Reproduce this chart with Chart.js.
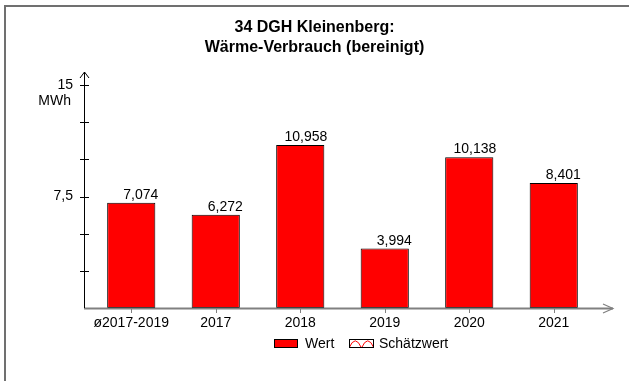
<!DOCTYPE html>
<html>
<head>
<meta charset="utf-8">
<script src="https://cdn.jsdelivr.net/npm/chart.js@4.4.1/dist/chart.umd.min.js"></script>
<style>
  html, body { margin: 0; padding: 0; background: #fff; }
  #wrap { width: 629px; height: 381px; position: relative; }
</style>
</head>
<body>
<div id="wrap"><canvas id="c" width="629" height="381"></canvas></div>
<script>
// Heat consumption per period (MWh)
const categories = ['ø2017-2019', '2017', '2018', '2019', '2020', '2021'];
const values = [7.074, 6.272, 10.958, 3.994, 10.138, 8.401];
const estimates = [null, null, null, null, null, null];
const yTickValues = [0, 2.5, 5, 7.5, 10, 12.5, 15];
const yLabelValues = [7.5, 15];
const titleLines = ['34 DGH Kleinenberg:', 'Wärme-Verbrauch (bereinigt)'];
const unitLabel = 'MWh';
const legendLabels = ['Wert', 'Schätzwert'];

const FONT = '"Liberation Sans", Arial, sans-serif';
const RED = '#ff0000';

function fmt(v, digits) {
  return v.toFixed(digits).replace('.', ',');
}
function fmtTick(v) {
  return Number.isInteger(v) ? String(v) : String(v).replace('.', ',');
}

// Hatched swatch used for the estimate series
function drawEstimateSwatch(ctx, x, y, w, h) {
  ctx.save();
  ctx.fillStyle = '#fff';
  ctx.fillRect(x, y, w, h);
  ctx.beginPath();
  ctx.rect(x, y, w, h);
  ctx.clip();
  ctx.strokeStyle = RED;
  ctx.lineWidth = 1;
  const step = w / 2;
  for (let i = 0; i < 2; i++) {
    const cx = x + step * i + step / 2;
    ctx.beginPath();
    ctx.moveTo(x + step * i, y + h);
    ctx.quadraticCurveTo(cx, y - h * 0.6, x + step * (i + 1), y + h);
    ctx.stroke();
  }
  ctx.restore();
  ctx.strokeStyle = '#000';
  ctx.lineWidth = 1;
  ctx.strokeRect(x + 0.5, y + 0.5, w - 1, h - 1);
}

const decor = {
  id: 'decor',
  beforeDraw(chart) {
    const ctx = chart.ctx;
    ctx.save();
    ctx.fillStyle = '#fff';
    ctx.fillRect(0, 0, chart.width, chart.height);
    // frame
    ctx.strokeStyle = '#707070';
    ctx.lineWidth = 2;
    ctx.beginPath();
    ctx.moveTo(5, chart.height);
    ctx.lineTo(5, 6);
    ctx.lineTo(chart.width, 6);
    ctx.stroke();
    ctx.restore();
  },
  afterDatasetsDraw(chart) {
    const ctx = chart.ctx;
    const xs = chart.scales.x;
    const ys = chart.scales.y;
    const y0 = ys.getPixelForValue(0);
    const yTop = ys.getPixelForValue(15);
    const axisX = 84;
    ctx.save();

    // title
    ctx.fillStyle = '#000';
    ctx.font = 'bold 16px ' + FONT;
    ctx.textAlign = 'center';
    ctx.textBaseline = 'alphabetic';
    ctx.fillText(titleLines[0], chart.width / 2, 32);
    ctx.fillText(titleLines[1], chart.width / 2, 52);

    // x axis (grey, with arrow)
    const xEnd = 613;
    ctx.strokeStyle = '#808080';
    ctx.lineWidth = 2;
    ctx.beginPath();
    ctx.moveTo(axisX, y0 + 0.5);
    ctx.lineTo(xEnd, y0 + 0.5);
    ctx.stroke();
    ctx.lineWidth = 1.2;
    ctx.beginPath();
    ctx.moveTo(xEnd - 10, y0 - 4);
    ctx.lineTo(xEnd, y0 + 0.5);
    ctx.lineTo(xEnd - 10, y0 + 5);
    ctx.stroke();
    ctx.lineWidth = 1;
    categories.forEach((c, i) => {
      const px = Math.round(xs.getPixelForValue(i)) + 0.5;
      ctx.beginPath();
      ctx.moveTo(px, y0 + 1);
      ctx.lineTo(px, y0 + 5);
      ctx.stroke();
    });

    // y axis (black, with arrow)
    ctx.strokeStyle = '#000';
    ctx.lineWidth = 1;
    ctx.beginPath();
    ctx.moveTo(axisX + 0.5, y0);
    ctx.lineTo(axisX + 0.5, yTop - 13);
    ctx.stroke();
    ctx.beginPath();
    ctx.moveTo(axisX - 4, yTop - 7);
    ctx.lineTo(axisX + 0.5, yTop - 13);
    ctx.lineTo(axisX + 5, yTop - 7);
    ctx.stroke();
    yTickValues.forEach(v => {
      if (v === 0) return;
      const py = Math.round(ys.getPixelForValue(v)) + 0.5;
      ctx.beginPath();
      ctx.moveTo(axisX - 4, py);
      ctx.lineTo(axisX + 5, py);
      ctx.stroke();
    });

    // y labels
    ctx.font = '14px ' + FONT;
    ctx.textAlign = 'right';
    ctx.textBaseline = 'middle';
    yLabelValues.forEach(v => {
      ctx.fillText(fmtTick(v), 73, ys.getPixelForValue(v));
    });
    ctx.fillText(unitLabel, 71, ys.getPixelForValue(15) + 16);

    // x labels
    ctx.textAlign = 'center';
    ctx.textBaseline = 'middle';
    categories.forEach((c, i) => {
      ctx.fillText(c, xs.getPixelForValue(i), y0 + 15);
    });

    // value labels, right-aligned to the bar's right edge
    ctx.textAlign = 'right';
    ctx.textBaseline = 'alphabetic';
    const meta = chart.getDatasetMeta(0);
    meta.data.forEach((bar, i) => {
      ctx.fillText(fmt(values[i], 3), bar.x + bar.width / 2 + 3, bar.y - 4);
    });

    // legend
    const ly = 339;
    ctx.fillStyle = RED;
    ctx.fillRect(274, ly, 24, 9);
    ctx.strokeStyle = '#000';
    ctx.strokeRect(274.5, ly + 0.5, 23, 8);
    ctx.fillStyle = '#000';
    ctx.textAlign = 'left';
    ctx.textBaseline = 'middle';
    ctx.fillText(legendLabels[0], 305, ly + 5);
    drawEstimateSwatch(ctx, 349, ly, 25, 9);
    ctx.fillStyle = '#000';
    ctx.fillText(legendLabels[1], 379, ly + 5);

    ctx.restore();
  }
};

new Chart(document.getElementById('c'), {
  type: 'bar',
  data: {
    labels: categories,
    datasets: [
      {
        label: legendLabels[0],
        data: values,
        backgroundColor: RED,
        borderColor: '#000',
        borderWidth: 1,
        borderSkipped: false,
        categoryPercentage: 1,
        barPercentage: 0.57,
        grouped: false
      },
      {
        label: legendLabels[1],
        data: estimates,
        backgroundColor: RED,
        borderColor: '#000',
        borderWidth: 1,
        categoryPercentage: 1,
        barPercentage: 0.57,
        grouped: false
      }
    ]
  },
  options: {
    responsive: false,
    animation: false,
    devicePixelRatio: 1,
    layout: { padding: { left: 89, top: 85, right: 33, bottom: 73 } },
    plugins: { legend: { display: false }, title: { display: false }, tooltip: { enabled: false } },
    scales: {
      x: { display: false, offset: true },
      y: { display: false, min: 0, max: 15 }
    }
  },
  plugins: [decor]
});
</script>
</body>
</html>
